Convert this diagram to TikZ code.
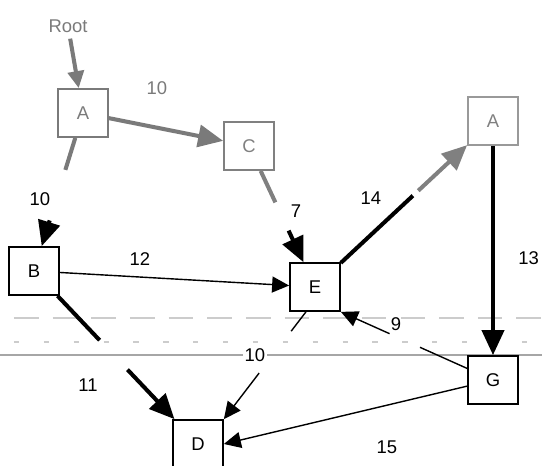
\documentclass[tikz,border=0pt]{standalone}
\usepackage{fontspec}
\setmainfont{Liberation Sans}
\usetikzlibrary{arrows.meta,calc,positioning}
\definecolor{wmgrey}{HTML}{7A7A7A}

\begin{document}
\begin{tikzpicture}[
  x=0.02cm, y=-0.02cm,
  every node/.style={font=\fontsize{10.5}{12}\selectfont},
  box/.style={rectangle, draw, line width=1pt, minimum width=1cm, minimum height=0.96cm, inner sep=0pt},
  greybox/.style={box, draw=wmgrey, text=wmgrey},
  lbl/.style={inner sep=1pt},
  heavy/.style={line width=2.3pt},
  light/.style={line width=0.8pt},
  bigtip/.style={-{Triangle[length=0.5cm,width=0.44cm]}},
  smalltip/.style={-{Triangle[length=0.34cm,width=0.32cm]}},
]
\useasboundingbox (0,0) rectangle (542,466);

% scan lines
\draw[gray!70, line width=0.8pt] (0,355) -- (542,355);
\draw[gray!40, line width=0.6pt, dash pattern=on 14pt off 8pt] (14,318) -- (542,318);
\draw[gray!40, line width=0.6pt, dash pattern=on 3pt off 14pt] (14,342) -- (542,342);

% nodes
\node[text=wmgrey] (root) at (68,26) {Root};
\node[greybox] (A1) at (83,113) {A};
\node[greybox, draw=gray, text=gray] (C) at (249,146) {C};
\node[greybox, draw=gray!80, text=gray] (A2) at (493,121) {A};
\node[box] (B) at (34,271) {B};
\node[box] (E) at (315,287) {E};
\node[box] (G) at (493,380) {G};
\node[box] (D) at (198,444) {D};

% edges
\draw[wmgrey, heavy, smalltip] (root) -- (A1);
\draw[wmgrey, heavy, bigtip] (A1) -- (C);
\draw[wmgrey, heavy] (A1) -- ($(A1)!0.36!(B)$);
\draw[heavy, bigtip] ($(A1)!0.68!(B)$) -- (B);
\draw[gray, heavy] (C) -- ($(C)!0.4!(E)$);
\draw[heavy, bigtip] ($(C)!0.6!(E)$) -- (E);
\draw[heavy] (E) -- ($(E)!0.55!(A2)$);
\draw[gray, heavy, bigtip] ($(E)!0.58!(A2)$) -- (A2);
\draw[heavy, bigtip] (A2) -- (G);
\draw[light, smalltip] (B) -- (E);
\draw[heavy] (B) -- ($(B)!0.4!(D)$);
\draw[heavy, bigtip] ($(B)!0.57!(D)$) -- (D);
\draw[light] (G) -- ($(G)!0.48!(E.south east)$);
\draw[light, smalltip] ($(G)!0.68!(E.south east)$) -- (E.south east);
\draw[light] (E.250) -- ($(E.250)!0.18!(D.north east)$);
\draw[light, smalltip] ($(E.250)!0.57!(D.north east)$) -- (D.north east);
\draw[light, smalltip] (G) -- (D.east);

% weights
\node[lbl, text=wmgrey] (w1) at (157,88) {10};
\node[lbl] (w2) at (40,199) {10};
\node[lbl] (w3) at (296,211) {7};
\node[lbl] (w4) at (371,198) {14};
\node[lbl, anchor=east] (w5) at (541,258) {13};
\node[lbl] (w6) at (140,259) {12};
\node[lbl] (w7) at (88,385) {11};
\node[lbl, fill=white] (w8) at (255,355) {10};
\node[lbl] (w9) at (396,324) {9};
\node[lbl] (w10) at (387,447) {15};

\end{tikzpicture}
\end{document}
